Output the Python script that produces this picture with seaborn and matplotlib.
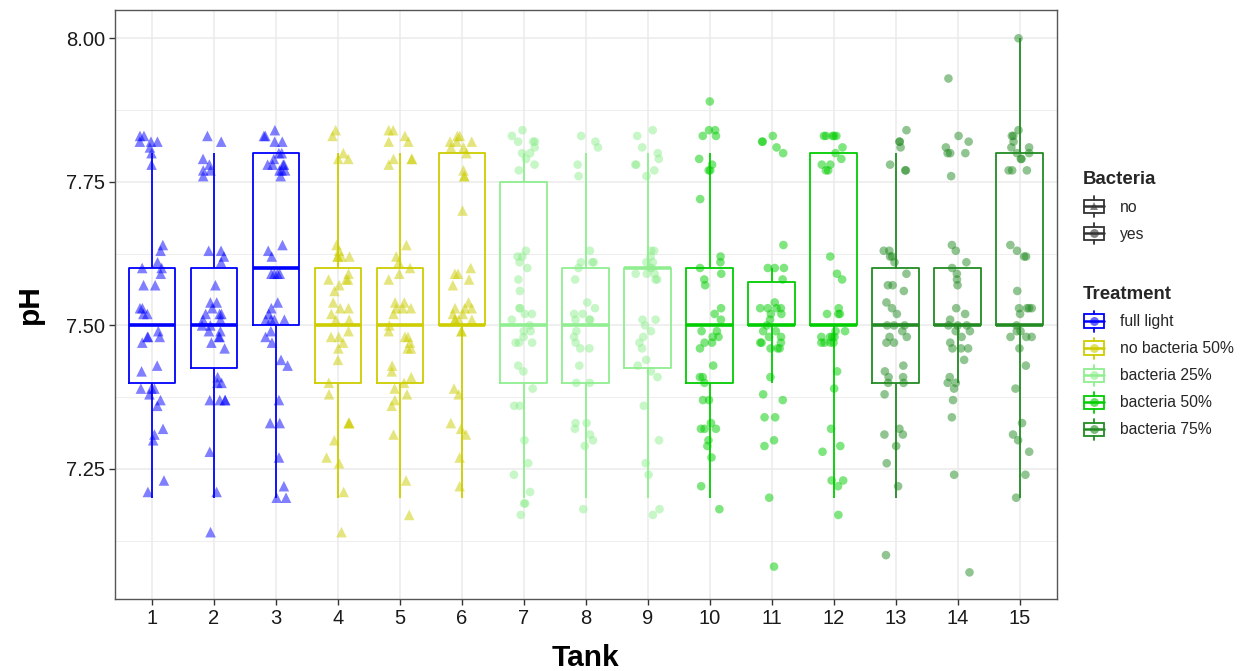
import numpy as np
import pandas as pd
import matplotlib
matplotlib.use("Agg")
import matplotlib.pyplot as plt
import seaborn as sns
from matplotlib.legend_handler import HandlerBase
from matplotlib.patches import Rectangle
from matplotlib.lines import Line2D
from matplotlib.ticker import FixedLocator

# ---------------- data ----------------
tanks = [str(i) for i in range(1, 16)]
treatment_levels = ["full light", "no bacteria 50%", "bacteria 25%", "bacteria 50%", "bacteria 75%"]
treatment_colors = ["#0000FF", "#CDCD00", "#90EE90", "#00CD00", "#228B22"]
tank_treatment = ["full light"] * 3 + ["no bacteria 50%"] * 3 + ["bacteria 25%"] * 3 + \
                 ["bacteria 50%"] * 3 + ["bacteria 75%"] * 3
tank_bacteria = ["no"] * 6 + ["yes"] * 9
bacteria_levels = ["no", "yes"]

# pH readings per tank as plotted (geom_jitter position); the measured value is the 0.1 step nearest
ph_tank1 = [7.83, 7.83, 7.82, 7.82, 7.81, 7.80, 7.82, 7.78,
            7.64, 7.63, 7.61, 7.60, 7.60, 7.59, 7.57, 7.57,
            7.53, 7.53, 7.52, 7.52, 7.49, 7.48, 7.48, 7.48, 7.47,
            7.42, 7.43, 7.39, 7.39, 7.39, 7.38, 7.37, 7.36,
            7.31, 7.30, 7.32, 7.23, 7.21]
ph_tank2 = [7.83, 7.82, 7.79, 7.77, 7.76, 7.78, 7.77,
            7.63, 7.63, 7.62, 7.61, 7.57,
            7.54, 7.54, 7.52, 7.53, 7.52, 7.51, 7.50, 7.51, 7.49, 7.48, 7.48, 7.46, 7.47, 7.50, 7.52, 7.49,
            7.41, 7.40, 7.40, 7.37, 7.37, 7.37, 7.37,
            7.28, 7.21, 7.14]
ph_tank3 = [7.84, 7.83, 7.83, 7.82, 7.82, 7.80, 7.80, 7.79, 7.78, 7.78, 7.78, 7.78, 7.77, 7.77, 7.77, 7.76,
            7.63, 7.64, 7.62, 7.59, 7.59, 7.59, 7.59,
            7.54, 7.53, 7.52, 7.51, 7.51, 7.51, 7.51, 7.49, 7.48, 7.47,
            7.44, 7.43, 7.37,
            7.33, 7.33, 7.27,
            7.22, 7.20, 7.20]
ph_tank4 = [7.84, 7.83, 7.79, 7.79, 7.80,
            7.62, 7.62, 7.62, 7.64, 7.63, 7.62, 7.59, 7.58, 7.58, 7.57, 7.56, 7.58,
            7.54, 7.53, 7.52, 7.51, 7.51, 7.53, 7.49, 7.48, 7.48, 7.47, 7.46,
            7.44, 7.40, 7.38,
            7.33, 7.33, 7.33, 7.30, 7.27, 7.26,
            7.21, 7.14]
ph_tank5 = [7.84, 7.84, 7.83, 7.82, 7.82, 7.79, 7.79, 7.78, 7.79,
            7.64, 7.61, 7.59, 7.60, 7.62, 7.58,
            7.53, 7.54, 7.54, 7.53, 7.53, 7.52, 7.49, 7.48, 7.50, 7.46, 7.48, 7.47, 7.46,
            7.43, 7.42, 7.41, 7.39, 7.38, 7.36, 7.37, 7.40,
            7.31, 7.23, 7.17]
ph_tank6 = [7.83, 7.82, 7.82, 7.83, 7.81, 7.81, 7.80, 7.77, 7.76, 7.76, 7.82,
            7.70,
            7.60, 7.59, 7.57, 7.59, 7.58,
            7.53, 7.54, 7.53, 7.52, 7.52, 7.53, 7.51, 7.51, 7.51, 7.51, 7.49, 7.49,
            7.39, 7.38,
            7.31, 7.32, 7.33, 7.27,
            7.22]
ph_tank7 = [7.84, 7.83, 7.82, 7.82, 7.82, 7.81, 7.80, 7.80, 7.78, 7.77, 7.79,
            7.63, 7.62, 7.62, 7.61, 7.60, 7.58, 7.56,
            7.53, 7.53, 7.52, 7.52, 7.51, 7.50, 7.49, 7.49, 7.48, 7.47, 7.47, 7.47,
            7.43, 7.42, 7.39, 7.36, 7.36,
            7.30, 7.26,
            7.24, 7.21, 7.19, 7.19, 7.17]
ph_tank8 = [7.83, 7.82, 7.81, 7.78, 7.76,
            7.63, 7.61, 7.61, 7.61, 7.60, 7.58,
            7.52, 7.54, 7.53, 7.52, 7.51, 7.51, 7.51, 7.49, 7.47, 7.48, 7.46, 7.46,
            7.43, 7.40, 7.40,
            7.33, 7.33, 7.32, 7.31, 7.30, 7.29,
            7.18]
ph_tank9 = [7.84, 7.83, 7.81, 7.80, 7.79, 7.78, 7.78, 7.77, 7.76,
            7.63, 7.63, 7.61, 7.61, 7.60, 7.59, 7.59, 7.58, 7.59, 7.60, 7.62, 7.58,
            7.51, 7.50, 7.49, 7.51, 7.48, 7.47, 7.46,
            7.44, 7.43, 7.42, 7.41, 7.36,
            7.30, 7.26,
            7.24, 7.18, 7.17]
ph_tank10 = [7.89,
             7.83, 7.84, 7.84, 7.83, 7.79, 7.78, 7.77, 7.77,
             7.72,
             7.61, 7.60, 7.59, 7.57, 7.58, 7.62,
             7.53, 7.52, 7.51, 7.49, 7.48, 7.48, 7.47, 7.47, 7.46, 7.49,
             7.43, 7.41, 7.41, 7.40, 7.37, 7.37,
             7.32, 7.33, 7.32, 7.32, 7.30, 7.29, 7.27,
             7.22, 7.18]
ph_tank11 = [7.82, 7.83, 7.80, 7.82, 7.81,
             7.64, 7.60, 7.60, 7.60, 7.58,
             7.54, 7.53, 7.53, 7.53, 7.53, 7.52, 7.52, 7.51, 7.50, 7.49,
             7.49, 7.48, 7.48, 7.47, 7.47, 7.47, 7.46, 7.46, 7.46,
             7.41, 7.38, 7.37,
             7.34, 7.34, 7.30, 7.29,
             7.20, 7.08]
ph_tank12 = [7.83, 7.83, 7.83, 7.83, 7.83, 7.81, 7.80, 7.79, 7.78, 7.77, 7.77, 7.78,
             7.62, 7.59, 7.58,
             7.52, 7.53, 7.52, 7.52, 7.49, 7.49, 7.48, 7.48, 7.48, 7.47, 7.47, 7.47, 7.47, 7.48,
             7.42, 7.39,
             7.32, 7.29, 7.28,
             7.23, 7.22, 7.23, 7.17]
ph_tank13 = [7.84, 7.82, 7.82, 7.81, 7.77, 7.77, 7.78,
             7.63, 7.62, 7.62, 7.63, 7.61, 7.59, 7.57, 7.57, 7.56,
             7.54, 7.53, 7.52, 7.49, 7.50, 7.48, 7.48, 7.47, 7.47, 7.50, 7.50,
             7.43, 7.42, 7.41, 7.41, 7.40, 7.40, 7.38,
             7.32, 7.31, 7.31, 7.29, 7.26,
             7.22, 7.10]
ph_tank14 = [7.93,
             7.83, 7.82, 7.81, 7.80, 7.80, 7.80, 7.76,
             7.64, 7.63, 7.61, 7.60, 7.59, 7.58, 7.57,
             7.53, 7.52, 7.51, 7.50, 7.50, 7.50, 7.49, 7.49, 7.48, 7.47, 7.46, 7.46, 7.46,
             7.44, 7.40, 7.41, 7.40, 7.39, 7.37,
             7.34, 7.24, 7.07]
ph_tank15 = [8.00,
             7.84, 7.83, 7.83, 7.82, 7.81, 7.80, 7.81, 7.80, 7.79, 7.79, 7.77, 7.77, 7.77,
             7.64, 7.63, 7.62, 7.62, 7.56,
             7.53, 7.53, 7.53, 7.53, 7.52, 7.49, 7.48, 7.48, 7.48, 7.49, 7.50, 7.46,
             7.43, 7.39,
             7.33, 7.31, 7.30, 7.28,
             7.24, 7.20]

ph_by_tank = [ph_tank1, ph_tank2, ph_tank3, ph_tank4, ph_tank5, ph_tank6, ph_tank7, ph_tank8,
              ph_tank9, ph_tank10, ph_tank11, ph_tank12, ph_tank13, ph_tank14, ph_tank15]

rows = []
for t, trt, bac, vals in zip(tanks, tank_treatment, tank_bacteria, ph_by_tank):
    for v in vals:
        rows.append({"Tank": t, "Treatment": trt, "Bacteria": bac, "pH": v})
df = pd.DataFrame(rows)
df["measured"] = df["pH"].round(1)

# ---------------- style ----------------
sns.set_theme(style="white")
plt.rcParams["font.family"] = ["Liberation Sans", "DejaVu Sans"]

fig = plt.figure(figsize=(12.4, 6.71), dpi=100)
ax = fig.add_axes([0.0925, 0.1073, 0.7597, 0.8778])

sns.boxplot(data=df, x="Tank", y="measured", hue="Treatment", order=tanks,
            hue_order=treatment_levels, palette=treatment_colors, fill=False,
            dodge=False, width=0.75, whis=1.5, showfliers=False, linewidth=1.3,
            legend=False, ax=ax, medianprops={"linewidth": 2.6},
            capprops={"visible": False})

np.random.seed(11)
markers = {"no": "^", "yes": "o"}
sizes = {"no": 7.6, "yes": 6.2}
for bac in bacteria_levels:
    sub = df[df["Bacteria"] == bac]
    sns.stripplot(data=sub, x="Tank", y="pH", hue="Treatment", order=tanks,
                  hue_order=treatment_levels, palette=treatment_colors,
                  marker=markers[bac], size=sizes[bac], alpha=0.5, jitter=0.2,
                  dodge=False, linewidth=0, legend=False, ax=ax)

ax.set_xlim(-0.6, 14.6)
ax.set_ylim(7.0236, 8.0493)
ax.set_yticks([7.25, 7.5, 7.75, 8.0])
ax.set_yticklabels(["7.25", "7.50", "7.75", "8.00"])
ax.yaxis.set_minor_locator(FixedLocator([7.125, 7.375, 7.625, 7.875]))
ax.set_axisbelow(True)
ax.grid(True, which="major", color="#EBEBEB", linewidth=1.1)
ax.grid(True, which="minor", axis="y", color="#EBEBEB", linewidth=0.6)
ax.tick_params(which="minor", length=0)
ax.tick_params(which="major", length=4, width=1, color="#333333", labelsize=14.5,
               labelcolor="#1a1a1a", pad=3, bottom=True, left=True)
for sp in ax.spines.values():
    sp.set_visible(True)
    sp.set_color("#555555")
    sp.set_linewidth(1.0)

ax.set_xlabel("Tank", fontsize=21.5, fontweight="bold", labelpad=12, color="black")
ax.set_ylabel("pH", fontsize=21.5, fontweight="bold", labelpad=16, color="black")


# ---------------- legends ----------------
class BoxKey:
    def __init__(self, color, marker, mcolor):
        self.color = color
        self.marker = marker
        self.mcolor = mcolor


class BoxKeyHandler(HandlerBase):
    def create_artists(self, legend, orig, xdescent, ydescent, width, height, fontsize, trans):
        cx = -xdescent + width / 2
        cy = -ydescent + height / 2
        bw = width * 0.92
        bh = height * 0.75
        rect = Rectangle((cx - bw / 2, cy - bh / 2), bw, bh, facecolor="white",
                         edgecolor=orig.color, lw=1.3, transform=trans)
        w1 = Line2D([cx, cx], [cy + bh / 2, cy + height * 0.6], color=orig.color, lw=1.3, transform=trans)
        w2 = Line2D([cx, cx], [cy - bh / 2, cy - height * 0.6], color=orig.color, lw=1.3, transform=trans)
        med = Line2D([cx - bw / 2, cx + bw / 2], [cy, cy], color=orig.color, lw=1.8, transform=trans)
        pt = Line2D([cx], [cy], marker=orig.marker, markersize=6.4, color=orig.mcolor, alpha=0.6,
                    linestyle="none", markeredgewidth=0, transform=trans)
        return [rect, w1, w2, med, pt]


hmap = {BoxKey: BoxKeyHandler()}
bac_handles = [BoxKey("#333333", markers[b], "#333333") for b in bacteria_levels]
trt_handles = [BoxKey(c, "o", c) for c in treatment_colors]

common = dict(loc="upper left", frameon=False, handler_map=hmap, fontsize=11.3,
              handlelength=1.4, handleheight=1.35, handletextpad=0.95, labelspacing=0.6,
              borderpad=0, borderaxespad=0, alignment="left",
              title_fontproperties={"weight": "bold", "size": 13.4},
              bbox_transform=fig.transFigure)
leg1 = fig.legend(bac_handles, bacteria_levels, title="Bacteria",
                  bbox_to_anchor=(0.8734, 0.745), **common)
leg2 = fig.legend(trt_handles, treatment_levels, title="Treatment",
                  bbox_to_anchor=(0.8734, 0.574), **common)

fig.savefig("out.png", dpi=100)
